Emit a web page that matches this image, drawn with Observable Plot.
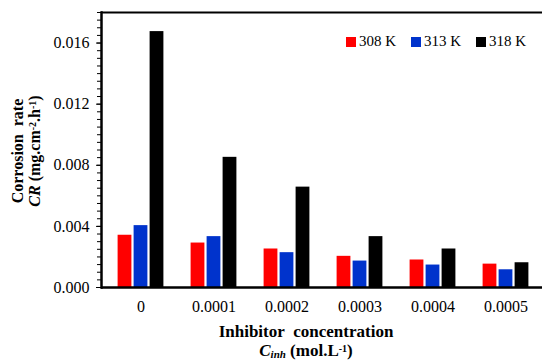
<!DOCTYPE html>
<html>
<head>
<meta charset="utf-8">
<script src="https://cdn.jsdelivr.net/npm/d3@7"></script>
<script src="https://cdn.jsdelivr.net/npm/@observablehq/plot@0.6"></script>
<style>
  html, body { margin: 0; padding: 0; background: #fff; }
  #wrap { position: relative; width: 542px; height: 362px; overflow: hidden; font-family: "Liberation Serif", "Times New Roman", serif; color: #000; }
  #wrap svg { position: absolute; left: 0; top: 0; }
  .ytitle { position: absolute; left: 26px; top: 151px; transform: translate(-50%, -50%) rotate(-90deg); font-weight: bold; font-size: 16px; white-space: nowrap; text-align: center; }
  .xtitle { position: absolute; left: 306px; top: 322px; transform: translateX(-50%); font-weight: bold; font-size: 17px; white-space: nowrap; text-align: center; }
  .ytitle div { height: 17px; line-height: 17px; }
  .xtitle div { height: 19px; line-height: 19px; }
  .legend { position: absolute; top: 33px; left: 346px; font-size: 15px; display: flex; gap: 0; white-space: nowrap; }
  .legend .item { display: flex; align-items: center; width: 65px; }
  .legend .sw { width: 10px; height: 10px; margin-right: 3px; }
  sup { font-size: 10px; line-height: 0; vertical-align: 0.45em; }
  sub { font-size: 11px; line-height: 0; vertical-align: -0.15em; }
</style>
</head>
<body>
<div id="wrap"></div>
<script>
const concentrations = ["0", "0.0001", "0.0002", "0.0003", "0.0004", "0.0005"];
const seriesNames = ["308 K", "313 K", "318 K"];
const seriesColors = ["#ff0000", "#0033cc", "#000000"];
const cr308 = [0.00342, 0.00291, 0.00252, 0.00204, 0.00180, 0.00153];
const cr313 = [0.00405, 0.00333, 0.00228, 0.00173, 0.00147, 0.00116];
const cr318 = [0.01675, 0.00852, 0.00657, 0.00333, 0.00252, 0.00162];
const majorTicks = [0, 0.004, 0.008, 0.012, 0.016];
const minorTicks = d3.range(0, 0.01801, 0.0005);

const seriesValues = [cr308, cr313, cr318];
const offsets = [-16, 0, 16];
const serifStack = "'Liberation Serif', 'Times New Roman', serif";

const rows = seriesValues.map(vals => concentrations.map((c, i) => ({c, v: vals[i]})));

const marks = [];
rows.forEach((data, k) => {
  marks.push(Plot.barY(data, {
    x: "c", y: "v", fill: seriesColors[k],
    insetLeft: 29.6, insetRight: 29.6, dx: offsets[k]
  }));
});
marks.push(
  Plot.ruleY([0.018], {stroke: "#000", strokeWidth: 2}),
  Plot.ruleY([0], {stroke: "#000", strokeWidth: 2.5}),
  Plot.frame({anchor: "left", stroke: "#000", strokeWidth: 2.5}),
  Plot.axisY({ticks: minorTicks, tickSize: 4, text: null, label: null}),
  Plot.axisY({ticks: majorTicks, tickSize: 5, tickPadding: 7, tickFormat: d3.format(".3f"), fontSize: 16, label: null}),
  Plot.axisX({tickSize: 0, tickPadding: 13, fontSize: 16, label: null})
);

const chart = Plot.plot({
  width: 542,
  height: 362,
  marginLeft: 101,
  marginRight: 0,
  marginTop: 12,
  marginBottom: 75,
  style: {fontFamily: serifStack, fontSize: "16px", color: "#000", background: "#fff"},
  x: {domain: concentrations, range: [101, 544], padding: 0, axis: null},
  y: {domain: [0, 0.018], axis: null},
  marks
});

const wrap = document.getElementById("wrap");
wrap.appendChild(chart);

const yt = document.createElement("div");
yt.className = "ytitle";
yt.innerHTML = "<div>Corrosion&nbsp; rate</div><div><i>CR</i> (mg.cm<sup>-2</sup>.h<sup>-1</sup>)</div>";
wrap.appendChild(yt);

const xt = document.createElement("div");
xt.className = "xtitle";
xt.innerHTML = "<div>Inhibitor&nbsp; concentration</div><div><i>C<sub>inh</sub></i> (mol.L<sup>-1</sup>)</div>";
wrap.appendChild(xt);

const lg = document.createElement("div");
lg.className = "legend";
seriesNames.forEach((n, k) => {
  const it = document.createElement("div");
  it.className = "item";
  it.innerHTML = `<span class="sw" style="background:${seriesColors[k]}"></span><span>${n}</span>`;
  lg.appendChild(it);
});
wrap.appendChild(lg);
</script>
</body>
</html>
